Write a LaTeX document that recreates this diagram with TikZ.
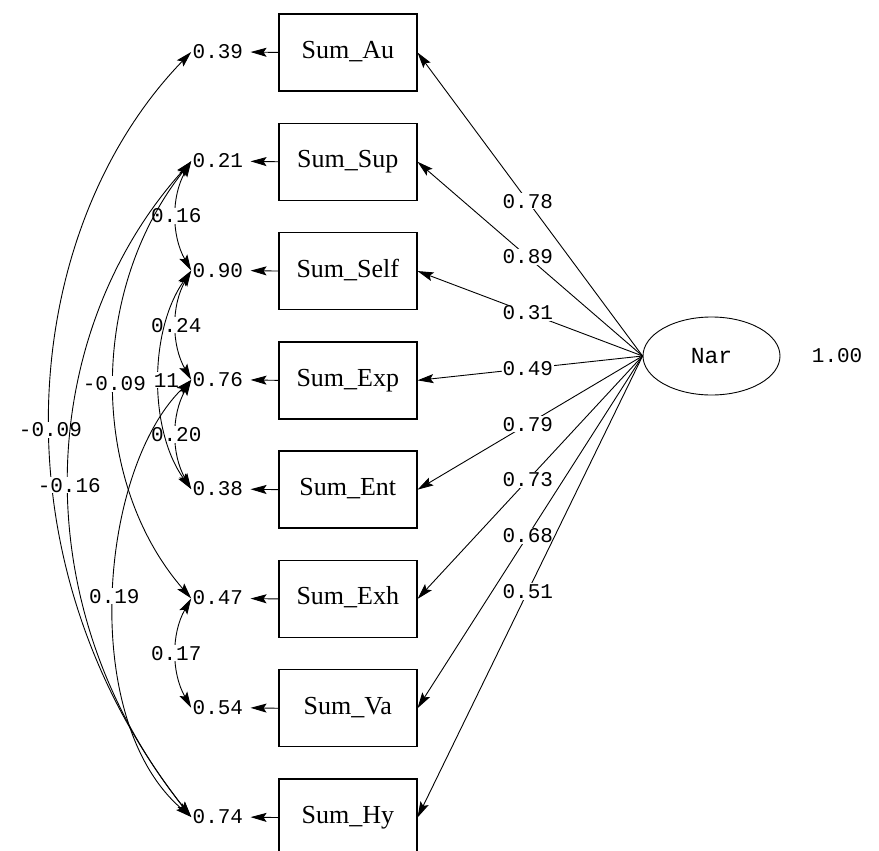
\documentclass[tikz,border=0pt]{standalone}
\usepackage{fontspec}
\newfontfamily\monofont{Liberation Mono}
\newfontfamily\seriffont{Liberation Serif}
\usetikzlibrary{matrix,arrows.meta,shapes.geometric,positioning}
\tikzset{>={Stealth[length=16pt,width=9pt,inset=3pt]},
  coef/.style={font=\monofont\fontsize{21}{24}\selectfont,inner sep=1pt},
  coeflbl/.style={coef,fill=white},
  errval/.style={coef,text height=13pt,text depth=0pt},
  obsbox/.style={draw,line width=1.4pt,inner sep=4pt,minimum width=138pt,minimum height=77pt,
    text height=18pt,text depth=6pt,font=\seriffont\fontsize{26}{30}\selectfont},
  cov/.style={<->}}

\begin{document}
\begin{tikzpicture}[x=1pt,y=-1pt,line width=0.9pt]
        \useasboundingbox (0,0) rectangle (879,851);
        \matrix (m) [matrix of nodes,row sep=30.9pt,column sep=34pt,inner sep=0pt,
          column 1/.style={nodes=errval},column 2/.style={nodes=obsbox}] at (304.6,435) {
          0.39 & Sum\_Au \\
          0.21 & Sum\_Sup \\
          0.90 & Sum\_Self \\
          0.76 & Sum\_Exp \\
          0.38 & Sum\_Ent \\
          0.47 & Sum\_Exh \\
          0.54 & Sum\_Va \\
          0.74 & Sum\_Hy \\
        };
        \node[ellipse,draw,minimum width=137pt,minimum height=78pt,inner sep=0pt,
          font=\monofont\fontsize{23}{26}\selectfont] (nar) at (711.5,356) {Nar};
        \node[coef,right=30pt of nar] (narvar) {1.00};
        \foreach \r/\v in {1/0.78,2/0.89,3/0.31,4/0.49,5/0.79,6/0.73,7/0.68,8/0.51}
          \draw[->] (nar.west) -- node[coeflbl,pos=.51] {\v} (m-\r-2.east);
        \foreach \r in {1,...,8}
          \draw[->,shorten >=6pt] (m-\r-2.west) -- (m-\r-1.east);
        \foreach \a/\b/\v in {2/3/0.16,3/4/0.24,4/5/0.20,6/7/0.17}
          \draw[cov] (m-\a-1.west) .. controls +(-20,35) and +(-20,-35) .. node[coeflbl] {\v} (m-\b-1.west);
        \draw[cov] (m-1-1.west) .. controls +(-172.5,178.5) and +(-202.5,-256.6) .. node[coeflbl,pos=.53] {-0.09} (m-8-1.west);
        \draw[cov] (m-2-1.west) .. controls +(-102.5,129.2) and +(-102.5,-118) .. node[coeflbl] {-0.09} (m-6-1.west);
        \draw[cov] (m-3-1.west) .. controls +(-42.5,59.9) and +(-42.5,-58.7) .. node[coeflbl,xshift=7pt] {11} (m-5-1.west);
        \draw[cov] (m-4-1.west) .. controls +(-92.5,90.6) and +(-112.5,-96.6) .. node[coeflbl] {0.19} (m-8-1.west);
        \draw[cov] (m-2-1.west) .. controls +(-152.5,169.2) and +(-172.5,-216.6) .. node[coeflbl,pos=.52] {-0.16} (m-8-1.west);
    \end{tikzpicture}
\end{document}
